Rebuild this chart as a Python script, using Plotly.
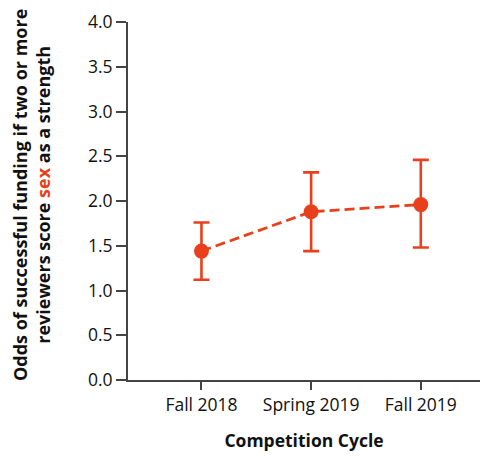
import plotly.graph_objects as go

categories = ["Fall 2018", "Spring 2019", "Fall 2019"]
odds = [1.44, 1.88, 1.96]
ci_upper = [1.76, 2.32, 2.46]
ci_lower = [1.12, 1.44, 1.48]
y_ticks = [0.0, 0.5, 1.0, 1.5, 2.0, 2.5, 3.0, 3.5, 4.0]

red = "#e8401c"
xs = list(range(len(categories)))
err_plus = [u - v for u, v in zip(ci_upper, odds)]
err_minus = [v - l for v, l in zip(odds, ci_lower)]

fig = go.Figure()
fig.add_trace(go.Scatter(
    x=xs, y=odds, mode="lines+markers",
    line=dict(color=red, width=2.8, dash="10px,5px"),
    marker=dict(color=red, size=15),
    error_y=dict(type="data", symmetric=False, array=err_plus, arrayminus=err_minus,
                 color=red, thickness=2.6, width=8),
    showlegend=False,
))

font_family = "Open Sans, DejaVu Sans, sans-serif"
fig.update_layout(
    width=489, height=457,
    margin=dict(l=128, r=9, t=17, b=77),
    plot_bgcolor="white", paper_bgcolor="white",
    font=dict(family=font_family, color="#111"),
    xaxis=dict(
        range=[-0.67, 2.54], tickmode="array", tickvals=xs, ticktext=categories,
        showgrid=False, zeroline=False, showline=True, linecolor="#444", linewidth=2,
        ticks="outside", ticklen=8, tickwidth=1.5, tickcolor="#444",
        tickfont=dict(size=17.5, color="#111"),
        title=dict(text="<b>Competition Cycle</b>", font=dict(size=17.5, color="#111"), standoff=20),
    ),
    yaxis=dict(
        range=[0, 4], tickmode="array", tickvals=y_ticks,
        ticktext=[f"{v:.1f}" for v in y_ticks],
        showgrid=False, zeroline=False, showline=True, linecolor="#444", linewidth=2,
        ticks="outside", ticklen=10, tickwidth=1.5, tickcolor="#444",
        tickfont=dict(size=17.5, color="#111"),
    ),
    annotations=[dict(
        text="<b>Odds of successful funding if two or more<br>reviewers score <span style='color:%s'>sex</span> as a strength</b>" % red,
        xref="paper", yref="paper", x=0, y=0.5, xanchor="center", yanchor="middle",
        xshift=-97, yshift=6, textangle=-90, showarrow=False,
        font=dict(size=18, color="#111", family=font_family),
    )],
)

fig.write_html("out.html")
